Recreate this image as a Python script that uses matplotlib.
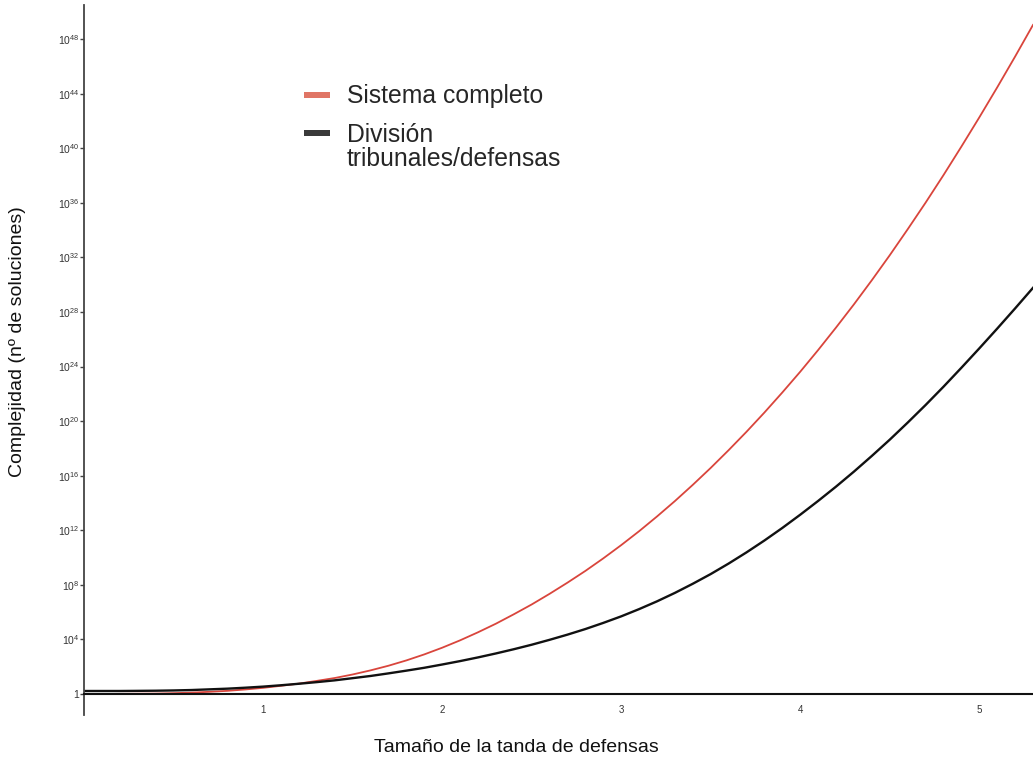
"""
Crecimiento del nº de soluciones según el tamaño de la tanda de defensas:
sistema completo frente a la división tribunales/defensas (escala log).
"""

import matplotlib
matplotlib.use("Agg")  # sin GUI
import matplotlib.pyplot as plt
import numpy as np
from matplotlib.patches import Rectangle
from matplotlib.ticker import FixedLocator, FuncFormatter, NullLocator

plt.rcParams["font.family"] = ["Liberation Sans", "DejaVu Sans"]
plt.rcParams["mathtext.fontset"] = "custom"
plt.rcParams["mathtext.rm"] = "Liberation Sans"
plt.rcParams["mathtext.it"] = "Liberation Sans:italic"
plt.rcParams["mathtext.bf"] = "Liberation Sans:bold"

# Tamaño de la tanda (eje x)
TAMANOS = [0.0, 0.1, 0.2, 0.3, 0.4, 0.5, 0.6, 0.7, 0.8, 0.9,
           1.0, 1.1, 1.2, 1.3, 1.4, 1.5, 1.6, 1.7, 1.8, 1.9,
           2.0, 2.1, 2.2, 2.3, 2.4, 2.5, 2.6, 2.7, 2.8, 2.9,
           3.0, 3.1, 3.2, 3.3, 3.4, 3.5, 3.6, 3.7, 3.8, 3.9,
           4.0, 4.1, 4.2, 4.3, 4.4, 4.5, 4.6, 4.7, 4.8, 4.9,
           5.0, 5.1, 5.2, 5.3]

# Exponente (base 10) del nº de soluciones
EXP_COMPLETO = [0.0, 0.0, 0.01, 0.02, 0.03, 0.06, 0.10, 0.16, 0.23, 0.33,
                0.45, 0.60, 0.76, 0.96, 1.17, 1.43, 1.73, 2.07, 2.46, 2.90,
                3.39, 3.93, 4.52, 5.15, 5.84, 6.56, 7.34, 8.16, 9.02, 9.94,
                10.91, 11.93, 13.01, 14.14, 15.33, 16.57, 17.87, 19.22, 20.63, 22.10,
                23.62, 25.21, 26.86, 28.56, 30.33, 32.16, 34.06, 36.01, 38.03, 40.12,
                42.26, 44.46, 46.72, 49.04]
EXP_DIVISION = [0.22, 0.22, 0.22, 0.23, 0.24, 0.26, 0.29, 0.34, 0.39, 0.46,
                0.54, 0.64, 0.75, 0.87, 1.00, 1.16, 1.32, 1.51, 1.71, 1.92,
                2.16, 2.41, 2.68, 2.97, 3.28, 3.61, 3.97, 4.35, 4.76, 5.21,
                5.69, 6.22, 6.79, 7.41, 8.08, 8.79, 9.56, 10.38, 11.25, 12.17,
                13.14, 14.15, 15.20, 16.30, 17.45, 18.64, 19.89, 21.18, 22.52, 23.91,
                25.33, 26.78, 28.26, 29.77]

TICKS_X = [1, 2, 3, 4, 5]
EXP_TICKS_Y = [0, 4, 8, 12, 16, 20, 24, 28, 32, 36, 40, 44, 48]

ETIQUETAS = ["Sistema completo", "División", "tribunales/defensas"]

W, H = 1033, 762


def fx(px):
    return px / W


def fy(py):
    return 1 - py / H


def etiqueta_y(v, pos):
    e = int(round(np.log10(v)))
    return "1" if e == 0 else rf"$10^{{{e}}}$"


def main() -> None:
    fig = plt.figure(figsize=(W / 100, H / 100), dpi=100)
    ax = fig.add_axes([fx(84), fy(715), fx(1033 - 84), (715 - 5) / H])

    x = np.array(TAMANOS)
    ax.plot(x, 10.0 ** np.array(EXP_COMPLETO), color="#d9453c", lw=1.3)
    ax.plot(x, 10.0 ** np.array(EXP_DIVISION), color="#111111", lw=1.7)

    ax.set_yscale("log")
    ax.set_xlim(0, 5.3)
    ax.set_ylim(10 ** -1.54, 10 ** 50.5)

    # eje x dibujado a la altura de y = 1
    for s in ("top", "right"):
        ax.spines[s].set_visible(False)
    ax.spines["bottom"].set_position(("data", 1))
    ax.spines["bottom"].set_color("#111111")
    ax.spines["bottom"].set_linewidth(1.5)
    ax.spines["left"].set_color("#444444")
    ax.spines["left"].set_linewidth(1.3)

    ax.xaxis.set_major_locator(FixedLocator(TICKS_X))
    ax.xaxis.set_major_formatter(FuncFormatter(lambda v, p: f"{v:g}"))
    ax.tick_params(axis="x", length=0, pad=8, labelsize=7, labelcolor="#333333")

    ax.yaxis.set_major_locator(FixedLocator([10.0 ** e for e in EXP_TICKS_Y]))
    ax.yaxis.set_minor_locator(NullLocator())
    ax.yaxis.set_major_formatter(FuncFormatter(etiqueta_y))
    ax.tick_params(axis="y", length=3, width=1, pad=0.5, labelsize=7.5,
                   labelcolor="#333333", color="#444444")

    fig.text(fx(18), fy(342), "Complejidad (nº de soluciones)", rotation=90,
             ha="center", va="center", fontsize=14, color="#111111")
    fig.text(fx(516), fy(748), "Tamaño de la tanda de defensas",
             ha="center", va="center", fontsize=14, color="#111111")

    # leyenda hecha a mano
    fig.add_artist(Rectangle((fx(304), fy(98)), fx(26), 6 / H,
                             transform=fig.transFigure, color="#e07565", lw=0))
    fig.add_artist(Rectangle((fx(304), fy(136)), fx(26), 6 / H,
                             transform=fig.transFigure, color="#3a3a3a", lw=0))
    fig.text(fx(347), fy(103), ETIQUETAS[0], fontsize=17.8, color="#262626", va="baseline")
    fig.text(fx(347), fy(141.5), ETIQUETAS[1], fontsize=17.8, color="#262626", va="baseline")
    fig.text(fx(347), fy(166), ETIQUETAS[2], fontsize=17.8, color="#262626", va="baseline")

    fig.savefig("out.png", dpi=100)
    plt.close(fig)


if __name__ == "__main__":
    main()
